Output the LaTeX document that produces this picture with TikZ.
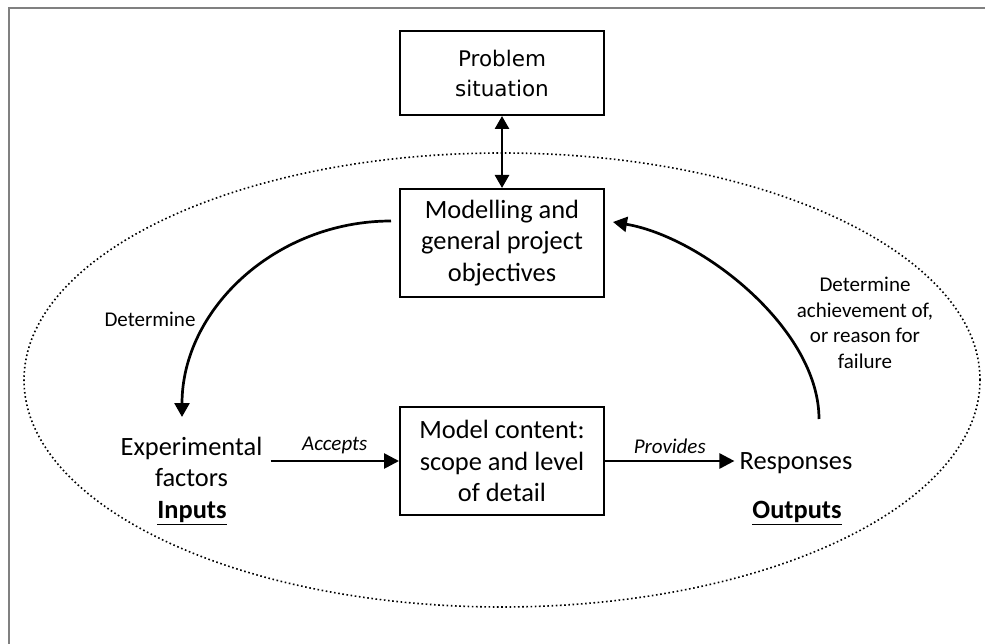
\documentclass[tikz,border=0pt]{standalone}
\usepackage{fontspec}
\setmainfont{Carlito}
\newfontfamily\vera{DejaVu Sans}
\usetikzlibrary{arrows.meta}

\definecolor{framegray}{HTML}{808080}

\tikzset{
  stagebox/.style={draw, line width=2pt, inner sep=0pt, align=center,
    minimum width=204pt, font=\fontsize{26.4}{31.7}\selectfont},
  bigtext/.style={inner sep=0pt, align=center, font=\fontsize{26.4}{31.7}\selectfont},
  smalltext/.style={inner sep=0pt, align=center, font=\fontsize{21}{25.6}\selectfont},
  flow/.style={line width=2.7pt, -{Triangle[length=15pt,width=15pt]}},
  loopline/.style={line width=2.7pt, -{Triangle[length=14pt,width=15pt]}},
  boundary/.style={line width=1.6pt, dash pattern=on 1.6pt off 2.6pt},
}

\begin{document}
\begin{tikzpicture}[x=1pt, y=-1pt]
  \useasboundingbox (0,0) rectangle (985,644);

  % page frame (only its top and left edges fall inside the picture)
  \draw[framegray, line width=2.5pt] (9,700) -- (9,8) -- (1000,8);

  % system boundary
  \draw[boundary] (502,380) ellipse [x radius=478pt, y radius=227pt];

  % boxes
  \node[stagebox, minimum height=84pt,
        font=\vera\fontsize{21.5}{30}\selectfont] (problem) at (502,73)
        {Problem\\situation};
  \node[stagebox, minimum height=108pt] (modelling) at (502,243)
        {Modelling and\\general project\\objectives};
  \node[stagebox, minimum height=108pt] (content) at (502,461)
        {Model content:\\scope and level\\of detail};

  % inputs and outputs
  \node[bigtext] (factors) at (191.5,462) {Experimental\\factors};
  \node[bigtext, font=\bfseries\fontsize{26.4}{31.7}\selectfont] (inputs) at (192,513)
        {\underline{Inputs}};
  \node[bigtext] (responses) at (796,463) {Responses};
  \node[bigtext, font=\bfseries\fontsize{26.4}{31.7}\selectfont] (outputs) at (797,513)
        {\underline{Outputs}};

  % free ends of the loop arrows
  \coordinate (dtip) at (182,417);
  \coordinate (rstart) at (819,419);

  % connectors
  \draw[line width=2.7pt, {Triangle[length=13pt,width=14pt]}-{Triangle[length=13pt,width=14pt]}]
        (problem.south) -- (modelling.north);

  \draw[flow] ([xshift=8pt]factors.east |- content.west) -- (content.west)
        node[midway, above=6pt, smalltext, font=\itshape\fontsize{21}{25.6}\selectfont] {Accepts};
  \draw[flow] (content.east) -- ([xshift=-5pt]responses.west |- content.east)
        node[midway, above=6pt, smalltext, font=\itshape\fontsize{21}{25.6}\selectfont] {Provides};

  \draw[loopline] ([shift={(-8,-22)}]modelling.west)
        .. controls (276,221) and (182,309) .. (dtip);
  \draw[loopline] (rstart)
        .. controls (819,329) and (702,237) .. ([shift={(8,-21)}]modelling.east);

  % loop labels
  \node[smalltext] (determine) at (150,319) {Determine};
  \node[smalltext] (achieve) at (865,323)
        {Determine\\achievement of,\\or reason for\\failure};
\end{tikzpicture}
\end{document}
